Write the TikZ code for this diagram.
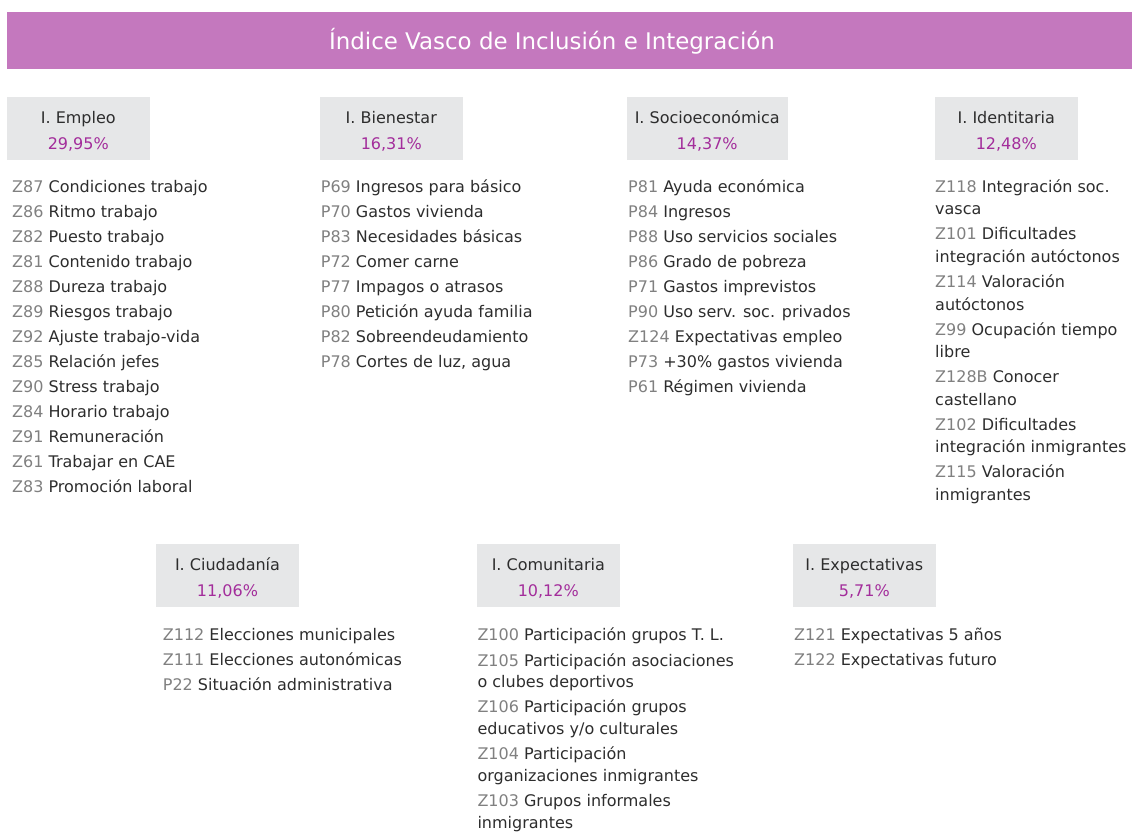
\documentclass[tikz,border=0pt]{standalone}
\usepackage{fontspec}
\setmainfont{DejaVu Sans}
\usepackage{tikz}
\definecolor{bannerpink}{RGB}{196,120,190}
\definecolor{boxgray}{RGB}{230,231,232}
\definecolor{pctmagenta}{RGB}{163,45,155}
\definecolor{codegray}{RGB}{128,128,128}
\definecolor{itemtext}{RGB}{45,45,45}
\newcommand{\vcode}[1]{\textcolor{codegray}{#1}}
\newcommand{\bodyfont}{\fontsize{16}{19}\selectfont}

\begin{document}
\begin{tikzpicture}[x=1pt,y=-1pt,
    hdrbox/.style={fill=boxgray,inner sep=0pt,minimum height=63pt},
    hdrtxt/.style={anchor=base,inner sep=0pt,text=itemtext,font=\bodyfont},
    pcttxt/.style={anchor=base,inner sep=0pt,text=pctmagenta,font=\bodyfont},
    item/.style={anchor=base west,inner sep=0pt,text=itemtext,font=\bodyfont}]
  \useasboundingbox (0,0) rectangle (1132,832);
  % banner
  \fill[bannerpink] (7,12) rectangle (1132,69);
  \node[anchor=base,inner sep=0pt,text=white,font=\fontsize{22.9}{26}\selectfont]
    (title) at (552,49.3) {Índice Vasco de Inclusión e Integración};
  % header boxes
  \foreach \nm/\cx/\cy/\bw/\ttl/\pct in {
      empleo/78.3/128.3/143/{I. Empleo}/{29,95\%},
      bienestar/391.3/128.3/143/{I. Bienestar}/{16,31\%},
      socio/707.2/128.3/161/{I. Socioeconómica}/{14,37\%},
      ident/1006.3/128.3/143/{I. Identitaria}/{12,48\%},
      ciudad/227.5/575.3/143/{I. Ciudadanía}/{11,06\%},
      comun/548.3/575.3/143/{I. Comunitaria}/{10,12\%},
      expect/864.3/575.3/143/{I. Expectativas}/{5,71\%}}
  {
    \node[hdrbox,minimum width=\bw pt] (\nm) at (\cx,\cy) {};
    \node[hdrtxt] (\nm-t) at ([yshift=5pt]\nm.center) {\ttl};
    \node[pcttxt] (\nm-p) at ([yshift=-21pt]\nm.center) {\pct};
  }
  % empleo
  \foreach \txt [count=\i] in {
      {\vcode{Z87} Condiciones trabajo}, {\vcode{Z86} Ritmo trabajo},
      {\vcode{Z82} Puesto trabajo}, {\vcode{Z81} Contenido trabajo},
      {\vcode{Z88} Dureza trabajo}, {\vcode{Z89} Riesgos trabajo},
      {\vcode{Z92} Ajuste trabajo-vida}, {\vcode{Z85} Relación jefes},
      {\vcode{Z90} Stress trabajo}, {\vcode{Z84} Horario trabajo},
      {\vcode{Z91} Remuneración}, {\vcode{Z61} Trabajar en CAE},
      {\vcode{Z83} Promoción laboral}}
    \node[item] (empleo-\i) at (12,{192.3+25*(\i-1)}) {\txt};
  % bienestar
  \foreach \txt [count=\i] in {
      {\vcode{P69} Ingresos para básico}, {\vcode{P70} Gastos vivienda},
      {\vcode{P83} Necesidades básicas}, {\vcode{P72} Comer carne},
      {\vcode{P77} Impagos o atrasos}, {\vcode{P80} Petición ayuda familia},
      {\vcode{P82} Sobreendeudamiento}, {\vcode{P78} Cortes de luz, agua}}
    \node[item] (bienestar-\i) at (320.7,{192.3+25*(\i-1)}) {\txt};
  % socioeconomica
  \foreach \txt [count=\i] in {
      {\vcode{P81} Ayuda económica}, {\vcode{P84} Ingresos},
      {\vcode{P88} Uso servicios sociales}, {\vcode{P86} Grado de pobreza},
      {\vcode{P71} Gastos imprevistos}, {\vcode{P90} Uso serv. soc. privados},
      {\vcode{Z124} Expectativas empleo}, {\vcode{P73} +30\% gastos vivienda},
      {\vcode{P61} Régimen vivienda}}
    \node[item] (socio-\i) at (628,{192.3+25*(\i-1)}) {\txt};
  % identitaria (two lines per item)
  \foreach \lineA/\lineB [count=\i] in {
      {\vcode{Z118} Integración soc.}/{vasca},
      {\vcode{Z101} Dificultades}/{integración autóctonos},
      {\vcode{Z114} Valoración}/{autóctonos},
      {\vcode{Z99} Ocupación tiempo}/{libre},
      {\vcode{Z128B} Conocer}/{castellano},
      {\vcode{Z102} Dificultades}/{integración inmigrantes},
      {\vcode{Z115} Valoración}/{inmigrantes}}
  {
    \node[item] (ident-\i a) at (935,{192.3+47.6*(\i-1)}) {\lineA};
    \node[item] (ident-\i b) at (935,{214.8+47.6*(\i-1)}) {\lineB};
  }
  % ciudadania
  \foreach \txt [count=\i] in {
      {\vcode{Z112} Elecciones municipales}, {\vcode{Z111} Elecciones autonómicas},
      {\vcode{P22} Situación administrativa}}
    \node[item] (ciudad-\i) at (162.7,{640+25*(\i-1)}) {\txt};
  % comunitaria
  \node[item] (comun-0) at (477.3,640) {\vcode{Z100} Participación grupos T. L.};
  \foreach \lineA/\lineB [count=\i] in {
      {\vcode{Z105} Participación asociaciones}/{o clubes deportivos},
      {\vcode{Z106} Participación grupos}/{educativos y/o culturales},
      {\vcode{Z104} Participación}/{organizaciones inmigrantes},
      {\vcode{Z103} Grupos informales}/{inmigrantes}}
  {
    \node[item] (comun-\i a) at (477.3,{666+46.9*(\i-1)}) {\lineA};
    \node[item] (comun-\i b) at (477.3,{687.7+46.9*(\i-1)}) {\lineB};
  }
  % expectativas
  \foreach \txt [count=\i] in {
      {\vcode{Z121} Expectativas 5 años}, {\vcode{Z122} Expectativas futuro}}
    \node[item] (expect-\i) at (794,{640+25*(\i-1)}) {\txt};
\end{tikzpicture}
\end{document}
